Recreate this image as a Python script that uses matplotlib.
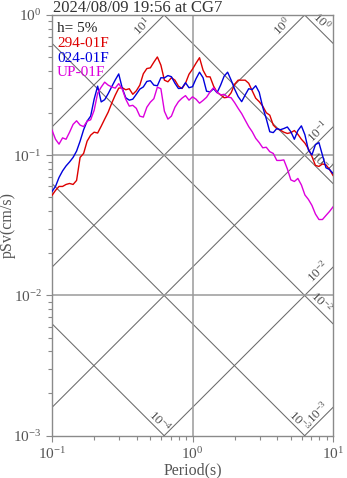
import numpy as np
import matplotlib
matplotlib.use('Agg')
import matplotlib.pyplot as plt

plt.rcParams['font.family'] = ['Liberation Serif', 'DejaVu Serif']
plt.rcParams['mathtext.fontset'] = 'custom'
plt.rcParams['mathtext.rm'] = 'Liberation Serif'
plt.rcParams['mathtext.it'] = 'Liberation Serif:italic'
plt.rcParams['mathtext.default'] = 'regular'

# ---- data -------------------------------------------------------------
title = '2024/08/09 19:56 at CG7'
damping_label = 'h= 5%'
series_names = ['294-01F', '024-01F', 'UP-01F']

periods = [
    0.1, 0.1059, 0.1122, 0.1189, 0.1259, 0.1334, 0.1413, 0.1496, 0.1585, 0.1679,
    0.1778, 0.1884, 0.1995, 0.2113, 0.2239, 0.2371, 0.2512, 0.2661, 0.2818, 0.2985,
    0.3162, 0.3350, 0.3548, 0.3758, 0.3981, 0.4217, 0.4467, 0.4732, 0.5012, 0.5309,
    0.5623, 0.5957, 0.6310, 0.6683, 0.7079, 0.7499, 0.7943, 0.8414, 0.8913, 0.9441,
    1.0, 1.059, 1.122, 1.189, 1.259, 1.334, 1.413, 1.496, 1.585, 1.679,
    1.778, 1.884, 1.995, 2.113, 2.239, 2.371, 2.512, 2.661, 2.818, 2.985,
    3.162, 3.350, 3.548, 3.758, 3.981, 4.217, 4.467, 4.732, 5.012, 5.309,
    5.623, 5.957, 6.310, 6.683, 7.079, 7.499, 7.943, 8.414, 8.913, 9.441,
    10.0,
]

sv_294 = [
    0.0517, 0.0561, 0.0599, 0.0599, 0.0619, 0.0629, 0.0619, 0.0661, 0.0965, 0.103,
    0.126, 0.139, 0.146, 0.144, 0.161, 0.181, 0.203, 0.235, 0.268, 0.301,
    0.303, 0.293, 0.298, 0.272, 0.288, 0.316, 0.381, 0.415, 0.420, 0.461,
    0.502, 0.439, 0.343, 0.334, 0.357, 0.343, 0.311, 0.299, 0.326, 0.378,
    0.411, 0.453, 0.496, 0.404, 0.363, 0.362, 0.311, 0.281, 0.270, 0.257,
    0.259, 0.279, 0.321, 0.343, 0.343, 0.343, 0.326, 0.288, 0.255, 0.241,
    0.224, 0.201, 0.193, 0.164, 0.155, 0.151, 0.146, 0.143, 0.145, 0.150,
    0.141, 0.130, 0.122, 0.111, 0.098, 0.0846, 0.0832, 0.0867, 0.0853, 0.0792,
    0.0718,
]

sv_024 = [
    0.0552, 0.0599, 0.0694, 0.0773, 0.0839, 0.0896, 0.0965, 0.107, 0.126, 0.152,
    0.175, 0.190, 0.251, 0.311, 0.240, 0.249, 0.275, 0.308, 0.344, 0.380,
    0.301, 0.257, 0.247, 0.251, 0.272, 0.296, 0.307, 0.336, 0.340, 0.316,
    0.313, 0.357, 0.356, 0.370, 0.363, 0.326, 0.299, 0.301, 0.329, 0.303,
    0.308, 0.351, 0.391, 0.357, 0.286, 0.283, 0.298, 0.279, 0.316, 0.366,
    0.391, 0.343, 0.296, 0.262, 0.241, 0.269, 0.298, 0.294, 0.313, 0.281,
    0.220, 0.182, 0.147, 0.145, 0.155, 0.152, 0.155, 0.159, 0.147, 0.130,
    0.150, 0.162, 0.140, 0.109, 0.1005, 0.119, 0.123, 0.100, 0.0814, 0.0792,
    0.0742,
]

sv_up = [
    0.151, 0.130, 0.120, 0.133, 0.130, 0.146, 0.166, 0.176, 0.164, 0.160,
    0.175, 0.179, 0.209, 0.277, 0.306, 0.332, 0.316, 0.307, 0.301, 0.324,
    0.296, 0.251, 0.224, 0.227, 0.216, 0.190, 0.187, 0.220, 0.239, 0.253,
    0.306, 0.298, 0.206, 0.181, 0.190, 0.220, 0.241, 0.255, 0.266, 0.247,
    0.261, 0.251, 0.235, 0.246, 0.259, 0.283, 0.303, 0.281, 0.269, 0.272,
    0.260, 0.257, 0.237, 0.216, 0.198, 0.178, 0.160, 0.147, 0.132, 0.123,
    0.113, 0.114, 0.106, 0.103, 0.0918, 0.0918, 0.0926, 0.0799, 0.0667, 0.0650,
    0.0683, 0.0614, 0.0521, 0.0484, 0.0439, 0.0381, 0.0348, 0.0348, 0.0372, 0.0397,
    0.0428,
]

# tripartite guide levels
disp_levels = [1e-4, 1e-3, 1e-2, 1e-1, 1e0]   # displacement, cm
acc_levels = [1e-3, 1e-2, 1e-1, 1e0, 1e1]     # acceleration, cm/s^2

# ---- figure -----------------------------------------------------------
W, H = 347, 478
fig = plt.figure(figsize=(W / 100, H / 100), dpi=100)
ax = fig.add_axes([52 / W, 1 - 435.7 / H, 281 / W, 420.7 / H])
ax.set_xscale('log')
ax.set_yscale('log')
tmin, tmax = 0.1, 10.0
smin, smax = 1e-3, 1.0
ax.set_xlim(tmin, tmax)
ax.set_ylim(smin, smax)

two_pi = 2 * np.pi
tt = np.logspace(-1, 1, 400)
diag_color = '#6a6a6a'
lab_color = '#505050'
diag_fs = 9.5

# displacement lines (Sv = 2*pi*D/T)
for d in disp_levels:
    ax.plot(tt, two_pi * d / tt, color=diag_color, lw=0.75, zorder=1)
    t_bottom = two_pi * d / smin
    if t_bottom <= tmax:
        lt = np.log10(t_bottom) - 0.07
    else:
        lt = np.log10(tmax) - 0.12
    t = 10 ** lt
    ax.text(t, two_pi * d / t, r'$10^{%d}$' % round(np.log10(d)),
            rotation=-45, rotation_mode='anchor', ha='center', va='bottom',
            fontsize=diag_fs, color=lab_color, zorder=2)

# acceleration lines (Sv = A*T/(2*pi))
for a in acc_levels:
    ax.plot(tt, a * tt / two_pi, color=diag_color, lw=0.75, zorder=1)
    t_top = two_pi * smax / a
    if t_top <= tmax:
        lt = np.log10(t_top) - 0.12
    else:
        lt = np.log10(tmax) - 0.07
    t = 10 ** lt
    ax.text(t, a * t / two_pi, r'$10^{%d}$' % round(np.log10(a)),
            rotation=45, rotation_mode='anchor', ha='center', va='bottom',
            fontsize=diag_fs, color=lab_color, zorder=2)

# decade grid
ax.axvline(1.0, color='#9a9a9a', lw=1.1, zorder=1)
for yv in (0.1, 0.01):
    ax.axhline(yv, color='#9a9a9a', lw=1.1, zorder=1)

# spectra
colors = ['#dd0000', '#0000dd', '#dd00dd']
for sv, c in zip([sv_294, sv_024, sv_up], colors):
    ax.plot(periods, sv, color=c, lw=1.0, zorder=3)

# annotations
ax.text(0.018, 0.967, damping_label, transform=ax.transAxes, fontsize=11,
        color='#222222', va='center', ha='left', zorder=4)
for i, (name, c) in enumerate(zip(series_names, colors)):
    ax.text(0.018, 0.932 - 0.0348 * i, name, transform=ax.transAxes,
            fontsize=11, color=c, va='center', ha='left', zorder=4)

fig.text(53 / W, 1 - 8 / H, title, ha='left', va='center', fontsize=12,
         color='#333333')

# axes styling
for s in ax.spines.values():
    s.set_color('#8a8a8a')
    s.set_linewidth(1.0)
ax.tick_params(which='both', direction='out', top=False, right=False,
               color='#8a8a8a', labelcolor='#555555', labelsize=11)
ax.tick_params(which='major', length=4.5, width=0.8, pad=3)
ax.tick_params(which='minor', length=3, width=0.8)
ax.set_xlabel('Period(s)', fontsize=11.5, color='#555555', labelpad=0)
ax.set_ylabel('pSv(cm/s)', fontsize=11.5, color='#555555')
ax.yaxis.set_label_coords(-0.13, 0.5)

fig.savefig('out.png', dpi=100)
